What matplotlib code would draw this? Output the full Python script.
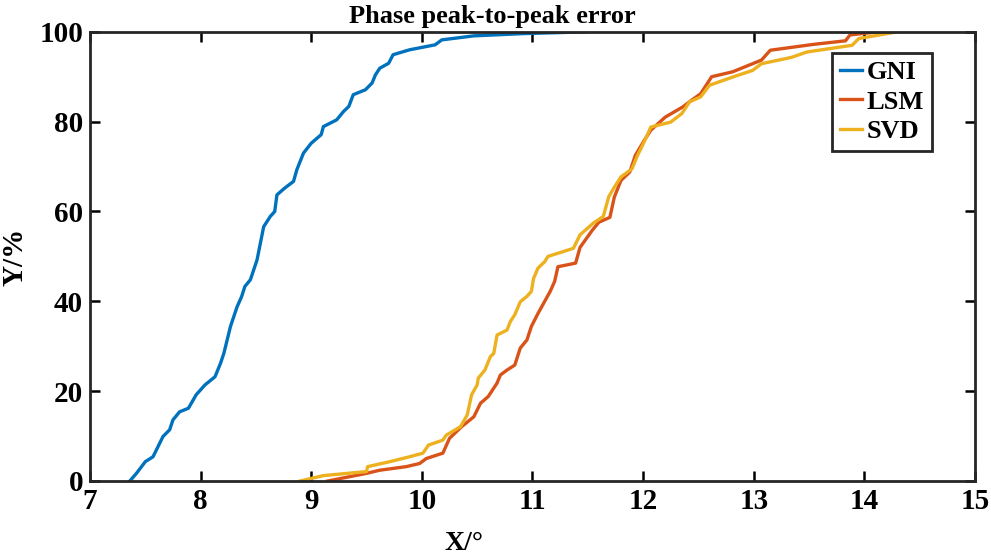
import matplotlib
matplotlib.use("Agg")
import matplotlib.pyplot as plt

# CDF curves
gni_x = [7.36, 7.42, 7.50, 7.57, 7.66, 7.72, 7.75, 7.81, 7.89, 7.96, 8.04, 8.13, 8.18,
         8.21, 8.24, 8.27, 8.30, 8.33, 8.37, 8.40, 8.45, 8.51, 8.57, 8.63, 8.67, 8.69,
         8.76, 8.84, 8.87, 8.93, 9.00, 9.09, 9.11, 9.23, 9.29, 9.34, 9.38, 9.49, 9.55,
         9.58, 9.62, 9.70, 9.74, 9.89, 10.12, 10.18, 10.47, 10.92, 11.49]
gni_y = [0.0, 1.7, 4.3, 5.4, 9.9, 11.4, 13.6, 15.4, 16.2, 19.2, 21.4, 23.2, 26.2,
         28.4, 31.4, 34.4, 36.6, 38.8, 41.0, 43.3, 44.8, 49.2, 56.6, 58.9, 60.0, 63.7,
         65.2, 66.7, 69.3, 73.0, 75.2, 77.1, 78.9, 80.4, 82.2, 83.4, 86.0, 87.1, 88.6,
         90.4, 91.9, 93.0, 94.9, 96.0, 97.1, 98.2, 99.1, 99.6, 100.0]

lsm_x = [9.15, 9.50, 9.62, 9.86, 9.98, 10.04, 10.19, 10.25, 10.36, 10.47, 10.53, 10.60,
         10.68, 10.71, 10.77, 10.84, 10.89, 10.95, 10.99, 11.05, 11.16, 11.20, 11.23,
         11.39, 11.43, 11.54, 11.60, 11.70, 11.74, 11.80, 11.88, 11.93, 12.01, 12.07,
         12.20, 12.36, 12.44, 12.52, 12.62, 12.81, 13.07, 13.15, 13.54, 13.83, 13.87,
         14.13]
lsm_y = [0.0, 1.7, 2.4, 3.2, 3.9, 5.0, 6.2, 9.5, 12.1, 14.3, 17.3, 18.8,
         21.8, 23.6, 24.7, 25.8, 29.6, 31.4, 34.4, 37.3, 42.2, 44.4, 47.7,
         48.5, 52.0, 55.8, 57.6, 58.7, 63.2, 66.9, 68.8, 72.5, 75.8, 78.1,
         81.0, 83.3, 84.8, 86.2, 90.0, 91.1, 93.7, 95.9, 97.2, 98.0, 99.3,
         100.0]

svd_x = [8.90, 9.11, 9.50, 9.51, 9.71, 9.89, 10.01, 10.06, 10.19, 10.22, 10.35, 10.41,
         10.45, 10.50, 10.51, 10.57, 10.62, 10.65, 10.68, 10.77, 10.80, 10.84, 10.89,
         10.95, 10.99, 11.01, 11.05, 11.11, 11.14, 11.23, 11.37, 11.43, 11.55, 11.64,
         11.69, 11.74, 11.80, 11.90, 11.95, 12.01, 12.07, 12.25, 12.35, 12.42, 12.52,
         12.60, 12.83, 12.99, 13.07, 13.34, 13.48, 13.89, 13.95, 14.30]
svd_y = [0.0, 1.2, 2.1, 3.2, 4.3, 5.4, 6.2, 8.0, 9.1, 10.2, 12.1, 14.7,
         19.2, 21.4, 22.9, 24.7, 27.7, 28.4, 32.5, 33.6, 35.5, 37.0, 39.9,
         41.1, 42.2, 45.1, 47.4, 48.8, 50.0, 50.7, 51.8, 54.8, 57.4, 58.9,
         63.3, 65.4, 67.7, 69.5, 72.5, 75.5, 78.8, 79.9, 81.8, 84.4, 85.5,
         88.1, 90.1, 91.4, 92.9, 94.3, 95.5, 97.0, 98.5, 100.0]

x_ticks = [7, 8, 9, 10, 11, 12, 13, 14, 15]
y_ticks = [0, 20, 40, 60, 80, 100]

plt.rcParams['font.family'] = ['Liberation Serif', 'DejaVu Serif']
plt.rcParams['font.weight'] = 'bold'

fig = plt.figure(figsize=(9.91, 5.58), dpi=100)
ax = fig.add_axes([0.0908, 0.138, 0.893, 0.805])

ax.plot(gni_x, gni_y, color='#0072BD', lw=2.4, label='GNI')
ax.plot(lsm_x, lsm_y, color='#D95319', lw=2.4, label='LSM')
ax.plot(svd_x, svd_y, color='#EDB120', lw=2.4, label='SVD')

ax.set_xlim(7, 15)
ax.set_ylim(0, 100)
ax.set_xticks(x_ticks)
ax.set_yticks(y_ticks)
ax.tick_params(direction='in', length=7, width=1.8, top=True, right=True,
               labelsize=21, pad=5)
for lab in ax.get_xticklabels() + ax.get_yticklabels():
    lab.set_fontweight('bold')
for sp in ax.spines.values():
    sp.set_linewidth(2.0)
    sp.set_color('#262626')

ax.set_title('Phase peak-to-peak error', fontsize=19, fontweight='bold',
             x=0.455, y=1.0)
ax.set_xlabel('X/°', fontsize=20, fontweight='bold')
ax.xaxis.set_label_coords(0.423, -0.112)
ax.set_ylabel('Y/%', fontsize=21, fontweight='bold')
ax.yaxis.set_label_coords(-0.07, 0.5)

leg = ax.legend(loc='upper right', bbox_to_anchor=(0.951, 0.953),
                borderaxespad=0, handlelength=0.85, handletextpad=0.15,
                borderpad=0.3, labelspacing=0.22, fancybox=False, framealpha=1,
                prop={'weight': 'bold', 'size': 19})
leg.get_frame().set_edgecolor('#262626')
leg.get_frame().set_linewidth(2.0)

fig.savefig('out.png', dpi=100)
